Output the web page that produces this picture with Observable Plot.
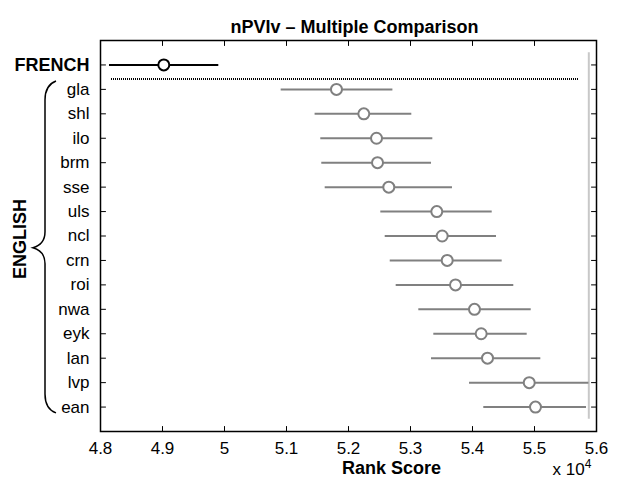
<!DOCTYPE html>
<html>
<head>
<meta charset="utf-8">
<script src="https://cdn.jsdelivr.net/npm/d3@7"></script>
<script src="https://cdn.jsdelivr.net/npm/@observablehq/plot@0.6"></script>
<style>
  html, body { margin: 0; padding: 0; background: white; }
</style>
</head>
<body>
<div id="chart"></div>
<script>
// Categories (top to bottom)
const labels = ["FRENCH","gla","shl","ilo","brm","sse","uls","ncl","crn","roi","nwa","eyk","lan","lvp","ean"];
// Mean rank scores
const means = [49021, 51806, 52247, 52452, 52468, 52650, 53424, 53511, 53592, 53726, 54032, 54140, 54242, 54915, 55016];
// Lower interval bounds
const lows  = [48145, 50914, 51461, 51553, 51569, 51624, 52521, 52592, 52673, 52769, 53134, 53376, 53339, 53952, 54182];
// Upper interval bounds
const highs = [49908, 52716, 53021, 53360, 53339, 53677, 54318, 54387, 54479, 54666, 54947, 54882, 55102, 55878, 55839];
// X tick values
const xTicks = [48000, 49000, 50000, 51000, 52000, 53000, 54000, 55000, 56000];
// Reference lines
const grayLineX = [55876];
const dividerY = [1.575];
const dividerX = [48177, 55710];

const rows = labels.map((d, i) => i + 1);
const data = labels.map((label, i) => ({label, row: rows[i], mean: means[i], lo: lows[i], hi: highs[i]}));
const french = data.filter(d => d.row === 1);
const english = data.filter(d => d.row !== 1);

const FONT = "'Liberation Sans', Arial, Helvetica, sans-serif";
const GRAY = "#808080";
const tickShape = { draw(ctx, l) { ctx.moveTo(0, 0); ctx.lineTo(0, -l); } };

const chart = Plot.plot({
  width: 624,
  height: 481,
  marginLeft: 100,
  marginRight: 28,
  marginTop: 40,
  marginBottom: 50,
  style: { fontFamily: FONT, fontSize: "17px", background: "white", color: "black" },
  x: { domain: [48000, 56000] },
  y: { domain: [16, 0], axis: null },
  marks: [
    Plot.ruleX(grayLineX, { y1: 0.5, y2: 15.5, stroke: "#c8c8c8", strokeWidth: 2 }),
    Plot.ruleY(dividerY, { x1: dividerX[0], x2: dividerX[1], stroke: "black", strokeWidth: 2, strokeDasharray: "1,1" }),
    Plot.ruleY(english, { y: "row", x1: "lo", x2: "hi", stroke: GRAY, strokeWidth: 2 }),
    Plot.ruleY(french, { y: "row", x1: "lo", x2: "hi", stroke: "black", strokeWidth: 2 }),
    Plot.dot(english, { x: "mean", y: "row", r: 5.5, stroke: GRAY, strokeWidth: 2, fill: "white" }),
    Plot.dot(french, { x: "mean", y: "row", r: 5.5, stroke: "black", strokeWidth: 2, fill: "white" }),
    Plot.text(english, { y: "row", text: "label", frameAnchor: "left", dx: -11, textAnchor: "end", fontSize: 17, fill: "black" }),
    Plot.text(french, { y: "row", text: "label", frameAnchor: "left", dx: -11, textAnchor: "end", fontSize: 18, fontWeight: "bold", fill: "black" }),
    // inward ticks
    Plot.vectorX(xTicks, { x: d => d, frameAnchor: "bottom", length: 5, rotate: 0, anchor: "start", shape: tickShape, stroke: "black", strokeWidth: 1 }),
    Plot.vectorX(xTicks, { x: d => d, frameAnchor: "top", length: 5, rotate: 180, anchor: "start", shape: tickShape, stroke: "black", strokeWidth: 1 }),
    Plot.vectorY(rows, { y: d => d, frameAnchor: "left", length: 5, rotate: 90, anchor: "start", shape: tickShape, stroke: "black", strokeWidth: 1 }),
    Plot.vectorY(rows, { y: d => d, frameAnchor: "right", length: 5, rotate: -90, anchor: "start", shape: tickShape, stroke: "black", strokeWidth: 1 }),
    Plot.axisX(xTicks, { anchor: "bottom", tickSize: 0, tickPadding: 10, fontSize: 17, label: null,
      tickFormat: d => String(+(d / 1e4).toFixed(1)) }),
    Plot.frame({ stroke: "black", strokeWidth: 1.5 }),
    Plot.text(["nPVIv – Multiple Comparison"], { frameAnchor: "top", dy: -20, dx: 6, fontWeight: "bold", fontSize: 18, fill: "black" }),
    Plot.text(["Rank Score"], { frameAnchor: "bottom", dy: 42, dx: 43, fontWeight: "bold", fontSize: 18, fill: "black" })
  ]
});

document.getElementById("chart").appendChild(chart);

// Decorations: ENGLISH group label, brace, and x 10^4 multiplier
const svg = d3.select(chart);
const ys = chart.scale("y");
const yTop = ys.apply(1.68), yMid = ys.apply(8.5), yBot = ys.apply(15.26);
const path = d3.path();
path.moveTo(56, yTop);
path.bezierCurveTo(48, yTop + 3, 45, yTop + 9, 45, yTop + 19);
path.lineTo(45, yMid - 16);
path.bezierCurveTo(45, yMid - 6, 40, yMid - 2, 33, yMid);
path.bezierCurveTo(40, yMid + 2, 45, yMid + 6, 45, yMid + 16);
path.lineTo(45, yBot - 19);
path.bezierCurveTo(45, yBot - 9, 48, yBot - 3, 56, yBot);
svg.append("path").attr("d", path.toString()).attr("fill", "none").attr("stroke", "black").attr("stroke-width", 1.5);

svg.append("text")
  .attr("transform", `translate(20,${ys.apply(8.14)}) rotate(-90)`)
  .attr("text-anchor", "middle").attr("dy", "0.35em")
  .attr("font-family", FONT).attr("font-size", 18).attr("font-weight", "bold")
  .text("ENGLISH");

const mult = svg.append("text")
  .attr("x", 572).attr("y", 475)
  .attr("font-family", FONT).attr("font-size", 17).attr("fill", "black");
mult.append("tspan").text("x 10");
mult.append("tspan").attr("dy", -7).attr("font-size", 12).text("4");
</script>
</body>
</html>
